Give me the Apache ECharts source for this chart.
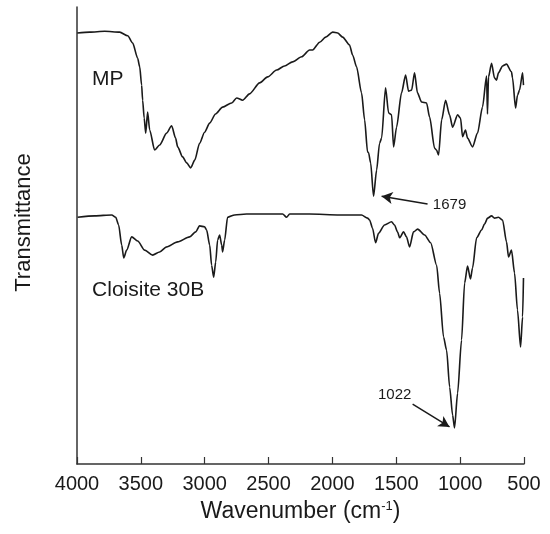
<!DOCTYPE html>
<html>
<head>
<meta charset="utf-8">
<script src="https://cdn.jsdelivr.net/npm/echarts@6/dist/echarts.min.js"></script>
<style>
  html, body { margin: 0; padding: 0; background: #fff; }
  #chart { width: 550px; height: 534px; }
</style>
</head>
<body>
<div id="chart"></div>
<script>
// ---- Data (wavenumber in cm^-1, transmittance in arbitrary units 0-100) ----
const xTicks = [4000, 3500, 3000, 2500, 2000, 1500, 1000, 500];

const mpWavenumber = [3998, 3901, 3783, 3666, 3603, 3564, 3525, 3509, 3494, 3486, 3474, 3462, 3447, 3431, 3392,
  3353, 3298, 3259, 3228, 3212, 3173, 3141, 3110, 3078, 3040, 3001, 2961, 2915, 2860, 2789, 2750, 2703, 2649,
  2570, 2507, 2437, 2375, 2312, 2241, 2179, 2155, 2100, 2053, 1998, 1959, 1920, 1866, 1842, 1811, 1772, 1748,
  1725, 1717, 1701, 1678, 1654, 1631, 1615, 1584, 1560, 1537, 1521, 1498, 1459, 1427, 1404, 1380, 1357, 1334,
  1302, 1263, 1239, 1200, 1185, 1169, 1145, 1114, 1083, 1059, 1020, 997, 981, 958, 942, 903, 864, 825, 793,
  786, 778, 754, 731, 715, 700, 668, 637, 598, 590, 566, 551, 535, 511, 504];
const mpT = [94.3, 94.5, 94.7, 94.5, 93.7, 92.1, 88.8, 86.9, 82.9, 79.6, 75.7, 72.4, 77.0, 73.1, 68.7,
  69.8, 72.4, 74.0, 71.3, 69.4, 67.2, 65.9, 64.8, 66.5, 70.2, 72.6, 74.6, 76.6, 78.1, 79.0, 80.1, 79.6, 81.0,
  83.4, 84.7, 86.2, 87.1, 88.0, 89.1, 90.6, 90.6, 92.3, 93.4, 94.5, 94.3, 93.4, 91.7, 89.5, 86.9, 81.2, 75.3,
  68.3, 68.1, 65.9, 58.6, 64.3, 70.2, 71.3, 82.3, 76.8, 76.4, 69.4, 73.7, 81.2, 85.1, 81.6, 81.8, 85.6, 81.2,
  79.2, 79.0, 75.9, 69.1, 68.7, 67.6, 75.3, 79.6, 76.4, 73.7, 76.4, 75.7, 71.6, 73.1, 71.3, 69.4, 72.4, 78.1, 84.9,
  76.6, 84.7, 87.7, 84.5, 84.0, 85.6, 87.1, 87.5, 85.8, 84.5, 77.9, 80.7, 81.8, 85.6, 82.9];

const cloisiteWavenumber = [3995, 3861, 3728, 3697, 3674, 3650, 3634, 3611, 3572, 3525, 3470, 3408, 3353, 3298,
  3212, 3118, 3071, 3040, 3001, 2985, 2961, 2946, 2930, 2914, 2899, 2883, 2867, 2860, 2844, 2821, 2766, 2672,
  2531, 2390, 2359, 2335, 2179, 1944, 1772, 1725, 1709, 1686, 1662, 1639, 1592, 1537, 1514, 1490, 1474, 1443,
  1420, 1396, 1365, 1333, 1278, 1231, 1184, 1161, 1130, 1106, 1082, 1059, 1044, 1020, 989, 965, 942, 919, 903,
  871, 832, 809, 785, 754, 731, 700, 668, 637, 621, 598, 574, 551, 527, 511, 504];
const cloisiteT = [54.0, 54.3, 54.5, 54.0, 52.3, 47.9, 45.1, 46.8, 49.7, 48.8, 46.8, 45.7, 46.4, 47.5,
  48.6, 49.7, 50.8, 52.1, 51.9, 51.2, 47.9, 43.5, 40.9, 44.2, 49.0, 50.1, 47.9, 46.4, 49.0, 54.0, 54.5, 54.7,
  54.7, 54.7, 54.0, 54.7, 54.7, 54.5, 54.5, 53.8, 53.4, 51.6, 48.4, 50.5, 52.3, 53.0, 52.3, 50.8, 49.5, 50.8,
  49.7, 47.5, 50.8, 51.4, 50.1, 48.4, 43.5, 37.4, 27.8, 24.9, 16.8, 10.7, 7.9, 15.5, 27.1, 39.6, 43.3, 40.5, 42.9,
  49.5, 51.2, 52.5, 53.8, 54.3, 53.8, 54.0, 53.4, 48.6, 45.3, 46.8, 41.8, 33.7, 25.6, 32.2, 40.7];

// curve labels: [text, wavenumber, transmittance]
const curveLabels = [["MP", 3760, 84.2], ["Cloisite 30B", 3443, 38.1]];
// peak annotations: [text, labelX, labelY, arrowFromX, arrowFromY, arrowToX, arrowToY]
const peakNotes = [
  ["1679", 1083, 56.7, 1255, 56.9, 1615, 58.6],
  ["1022", 1513, 15.1, 1372, 13.1, 1083, 8.1]
];

// ---- Build ----
const FONT = "'Liberation Sans', Arial, Helvetica, sans-serif";
const INK = '#1a1a1a';
const pairs = (xs, ys) => xs.map((x, i) => [x, ys[i]]);

const labelPoints = curveLabels.map(l => ({
  coord: [l[1], l[2]],
  label: { show: true, formatter: l[0], position: 'inside', fontSize: 21, fontFamily: FONT, color: INK }
})).concat(peakNotes.map(p => ({
  coord: [p[1], p[2]],
  label: { show: true, formatter: p[0], position: 'inside', fontSize: 15, fontFamily: FONT, color: INK }
})));

const arrows = peakNotes.map(p => [{ coord: [p[3], p[4]] }, { coord: [p[5], p[6]] }]);

const chart = echarts.init(document.getElementById('chart'), null, { renderer: 'canvas' });
chart.setOption({
  animation: false,
  backgroundColor: '#ffffff',
  grid: { left: 77, right: 26, top: 7, bottom: 70, containLabel: false },
  xAxis: {
    type: 'value',
    inverse: true,
    min: 500,
    max: 4000,
    interval: 500,
    name: 'Wavenumber (cm{sup|-1})',
    nameLocation: 'middle',
    nameGap: 36,
    nameTextStyle: {
      fontSize: 23, fontFamily: FONT, color: INK,
      rich: { sup: { fontSize: 13, fontFamily: FONT, color: INK, verticalAlign: 'top', padding: [0, 0, 10, 0] } }
    },
    axisLine: { show: true, lineStyle: { color: '#333', width: 1.5 } },
    axisTick: { show: true, inside: true, length: 7, lineStyle: { color: '#333', width: 1.2 } },
    axisLabel: {
      fontSize: 20, fontFamily: FONT, color: INK, margin: 10,
      formatter: v => (xTicks.indexOf(v) >= 0 ? String(v) : '')
    },
    splitLine: { show: false }
  },
  yAxis: {
    type: 'value',
    min: 0,
    max: 100,
    name: 'Transmittance',
    nameLocation: 'middle',
    nameGap: 42,
    nameRotate: 90,
    nameTextStyle: { fontSize: 22, fontFamily: FONT, color: INK, padding: [0, 0, 0, 26] },
    axisLine: { show: true, lineStyle: { color: '#333', width: 1.5 } },
    axisTick: { show: false },
    axisLabel: { show: false },
    splitLine: { show: false }
  },
  series: [
    {
      name: 'MP',
      type: 'line',
      data: pairs(mpWavenumber, mpT),
      showSymbol: false,
      smooth: 0.25,
      smoothMonotone: 'x',
      lineStyle: { color: INK, width: 1.6 },
      z: 3,
      markPoint: {
        symbol: 'circle', symbolSize: 1, silent: true,
        itemStyle: { color: 'rgba(0,0,0,0)' },
        data: labelPoints
      },
      markLine: {
        silent: true,
        symbol: ['none', 'arrow'],
        symbolSize: [9, 11],
        label: { show: false },
        lineStyle: { color: INK, width: 1.5, type: 'solid' },
        data: arrows
      }
    },
    {
      name: 'Cloisite 30B',
      type: 'line',
      data: pairs(cloisiteWavenumber, cloisiteT),
      showSymbol: false,
      smooth: 0.25,
      smoothMonotone: 'x',
      lineStyle: { color: INK, width: 1.6 },
      z: 3
    }
  ]
});
</script>
</body>
</html>
